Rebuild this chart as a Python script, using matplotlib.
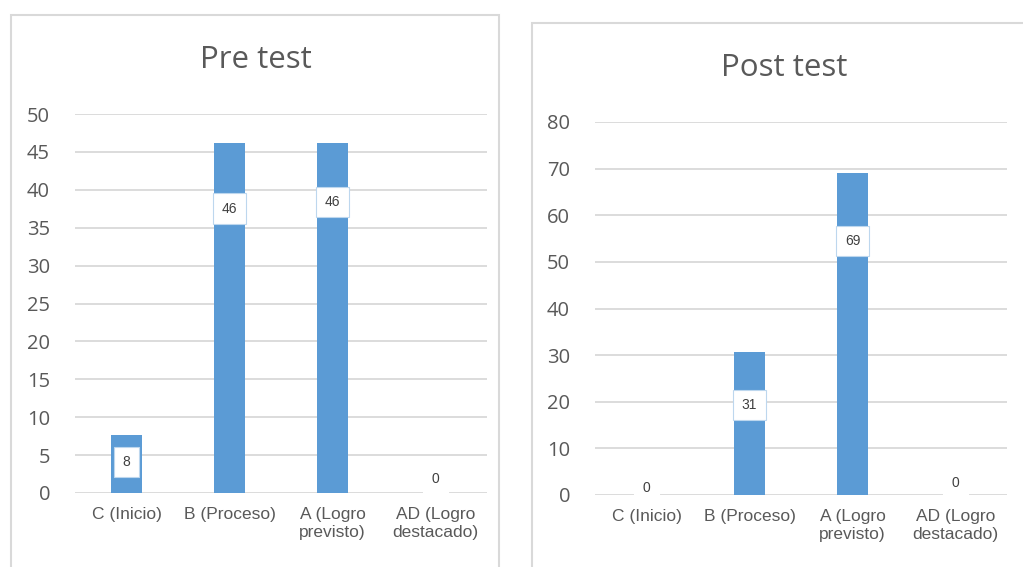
import matplotlib.pyplot as plt
from matplotlib.patches import Rectangle

categories = ['C (Inicio)', 'B (Proceso)', 'A (Logro\nprevisto)', 'AD (Logro\ndestacado)']
pre_values = [7.7, 46.2, 46.2, 0]
post_values = [0, 30.7, 69.1, 0]
# where the data labels sit (data units), as placed in the original
pre_label_y = [4.1, 37.5, 38.4, 1.9]
post_label_y = [1.5, 19.3, 54.5, 2.5]

BLUE = '#5b9bd5'
GRID = '#d9d9d9'
TXT = '#595959'

fig = plt.figure(figsize=(10.23, 5.67), dpi=100)

# panel frames
fig.patches.append(Rectangle((11/1023, -0.05), 488/1023, 1 - 15/567 + 0.05,
                             transform=fig.transFigure, fill=False, ec=GRID, lw=1.5))
fig.patches.append(Rectangle((532/1023, -0.05), 0.6, 1 - 23/567 + 0.05,
                             transform=fig.transFigure, fill=False, ec=GRID, lw=1.5))


def draw(ax, values, label_y, ymax, step):
    x = range(len(categories))
    ax.bar(x, values, width=0.31, color=BLUE, zorder=2)
    ax.set_xlim(-0.5, len(categories) - 0.5)
    ax.set_ylim(0, ymax)
    ax.set_yticks(range(0, ymax + 1, step))
    ax.yaxis.grid(True, color=GRID, lw=1.3, zorder=0)
    ax.set_axisbelow(True)
    for s in ax.spines.values():
        s.set_visible(False)
    ax.tick_params(length=0)
    ax.tick_params(axis='y', labelsize=14.5, labelcolor=TXT, pad=18)
    ax.set_xticks(list(x))
    ax.set_xticklabels(categories, fontsize=12.5, color=TXT,
                       family='Liberation Sans', linespacing=1.3)
    ax.tick_params(axis='x', pad=10)
    for lab in ax.get_yticklabels():
        lab.set_family('Open Sans')
    for i, (v, ly) in enumerate(zip(values, label_y)):
        ax.text(i, ly, f'{v:.0f}', ha='center', va='center', fontsize=10,
                family='Liberation Sans', color='#404040', zorder=3,
                bbox=dict(boxstyle='square,pad=0.6', fc='white',
                          ec='#bdd7ee' if v > 0 else 'white', lw=0.8))


ax1 = fig.add_axes([75/1023, 1 - 493/567, 412/1023, 379/567])
draw(ax1, pre_values, pre_label_y, 50, 5)
ax2 = fig.add_axes([595/1023, 1 - 495/567, 412/1023, 373/567])
draw(ax2, post_values, post_label_y, 80, 10)

fig.text(256/1023, 1 - 60/567, 'Pre test', ha='center', va='center',
         fontsize=22.5, color=TXT, family='Open Sans')
fig.text(784/1023, 1 - 68/567, 'Post test', ha='center', va='center',
         fontsize=22.5, color=TXT, family='Open Sans')

fig.savefig('out.png', dpi=100)
